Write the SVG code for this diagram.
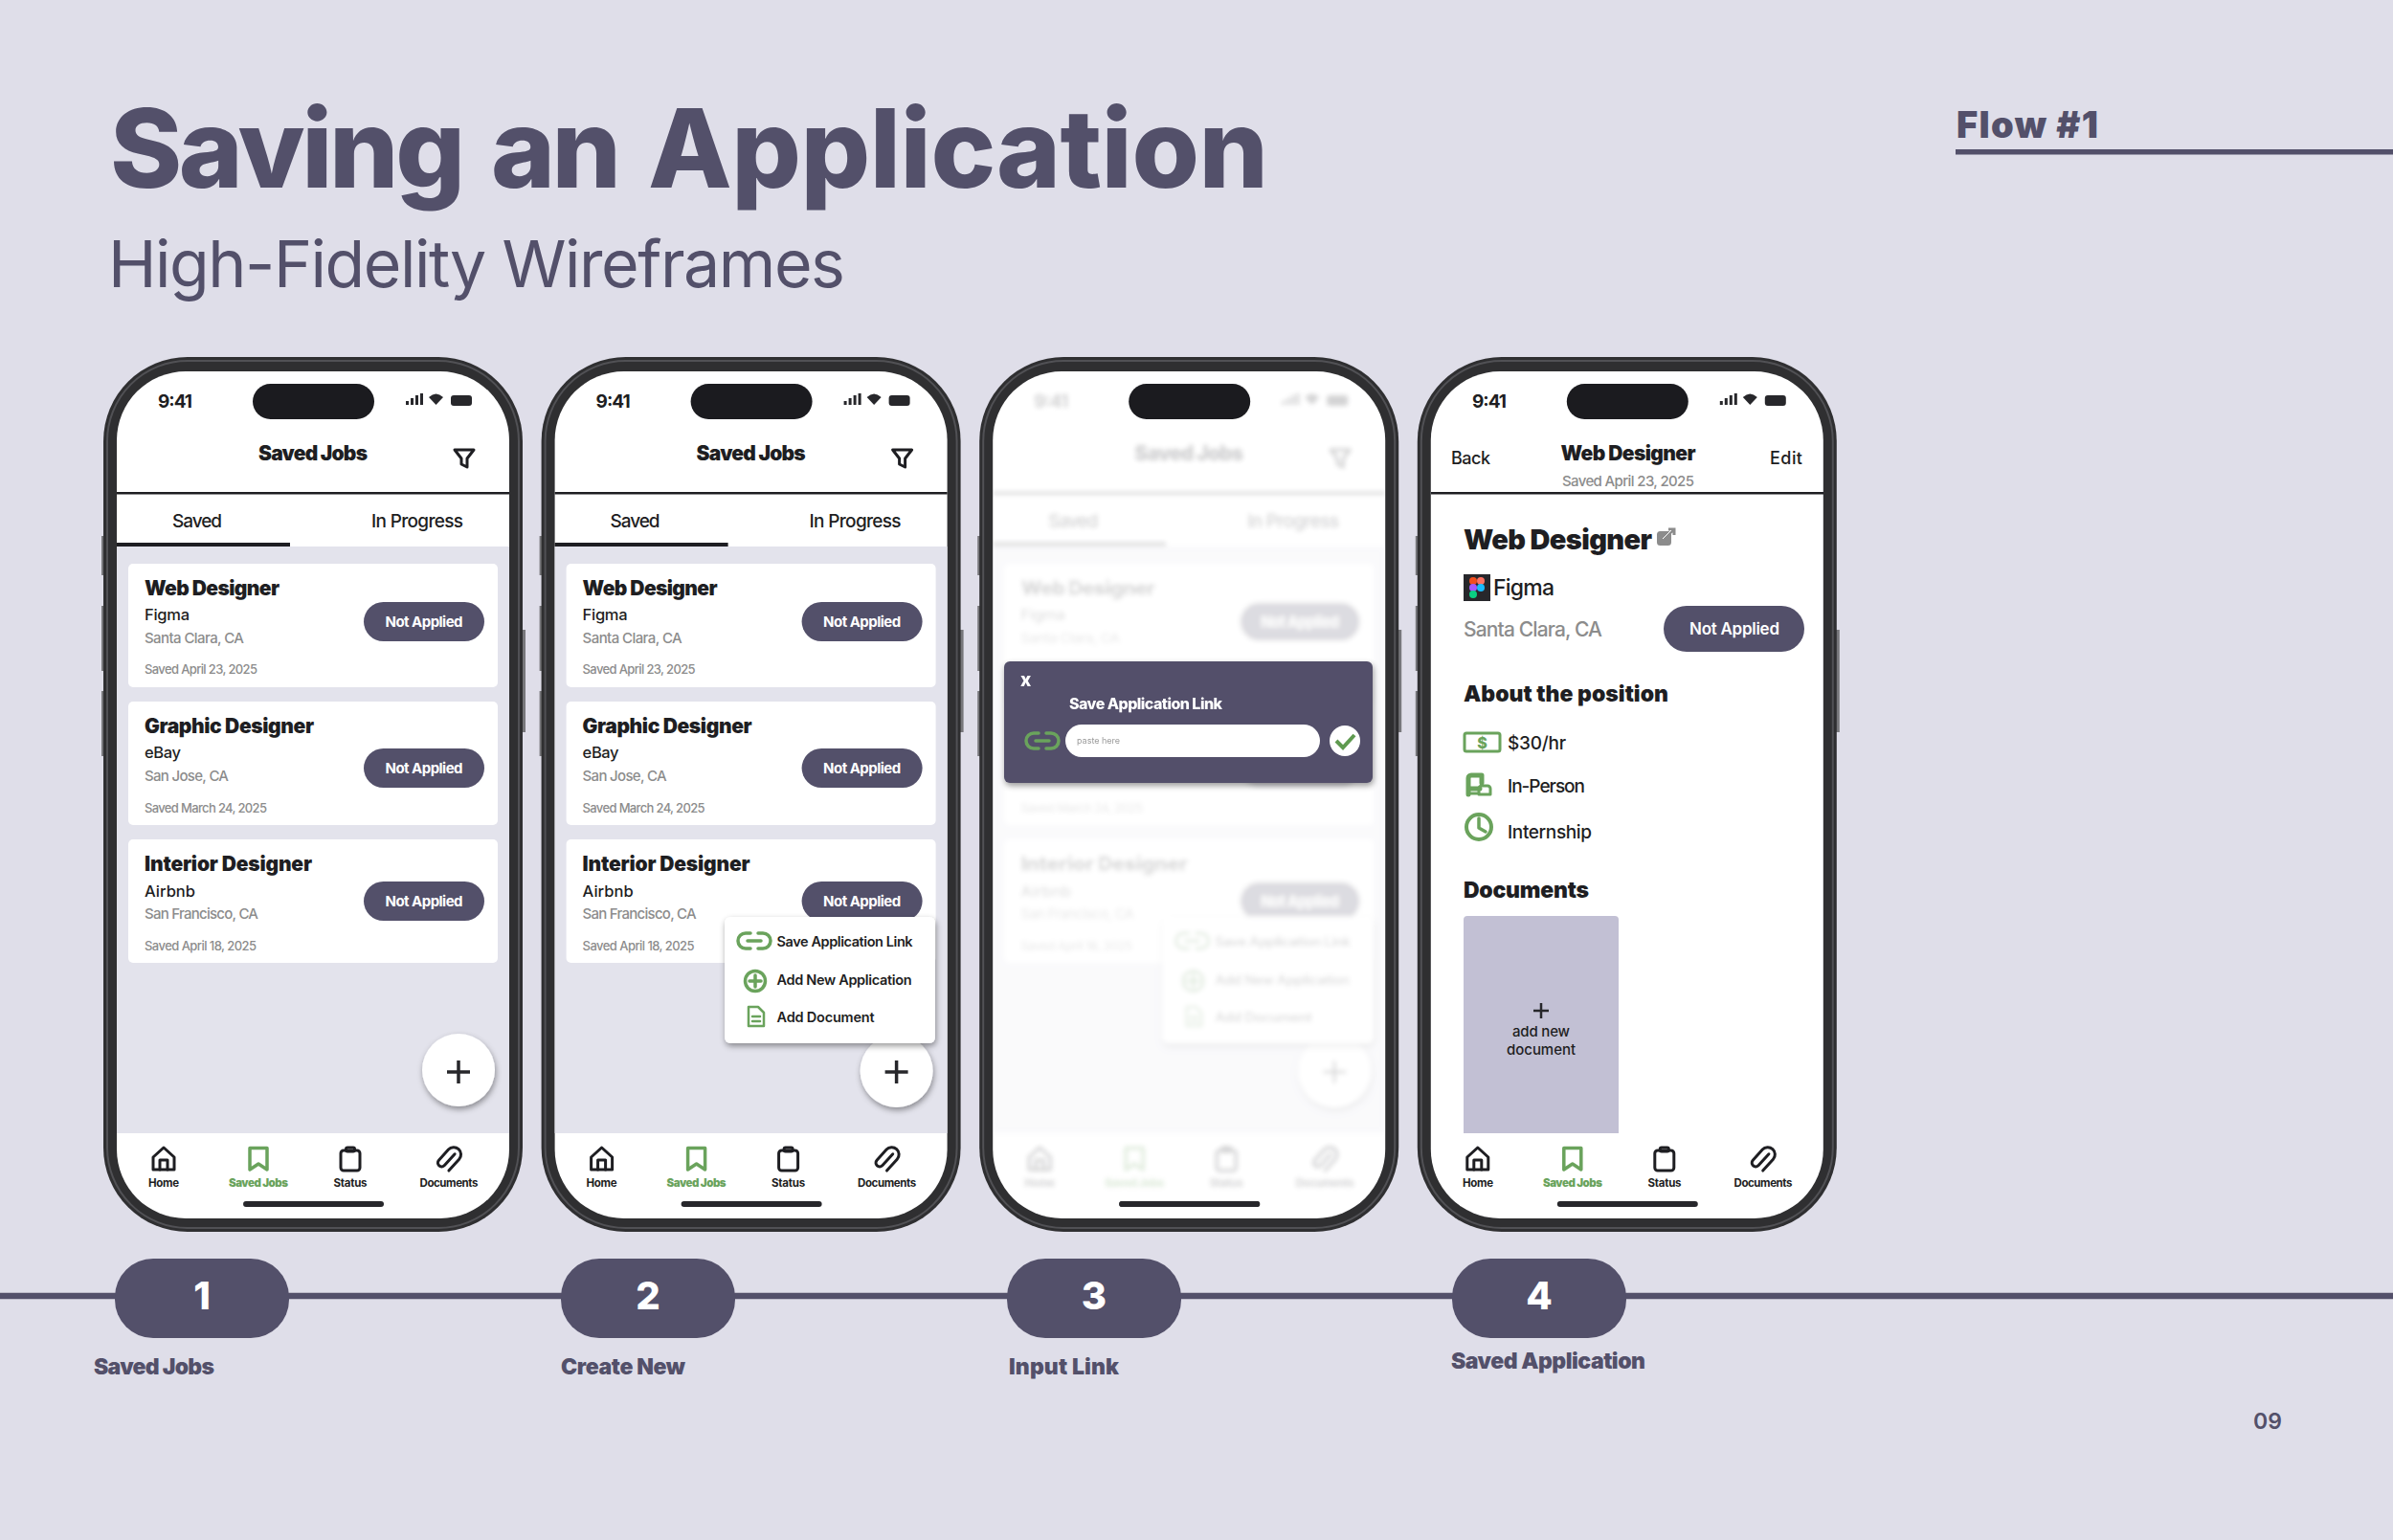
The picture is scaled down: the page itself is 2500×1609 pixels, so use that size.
<svg xmlns="http://www.w3.org/2000/svg" xmlns:xlink="http://www.w3.org/1999/xlink" width="2500" height="1609" viewBox="0 0 2500 1609">
<style>
text{font-family:Inter,"Liberation Sans",sans-serif;fill:#1e1e22;font-weight:500}
.h1{font-size:114px;font-weight:800;fill:#53506a}
.h2{font-size:68px;font-weight:400;fill:#53506a}
.flow{font-size:38px;font-weight:900;fill:#53506a}
.num{font-size:40px;font-weight:800;fill:#fff;text-anchor:middle}
.lab{font-size:23px;font-weight:900;fill:#53506a}
.clock{font-size:19px;font-weight:700}
.ttl{font-size:21px;font-weight:900;text-anchor:middle}
.tab{font-size:19px;font-weight:500}
.jt{font-size:21px;font-weight:900}
.co{font-size:16.5px;font-weight:500}
.lo{font-size:15px;fill:#8c8c8c;font-weight:500}
.da{font-size:13px;fill:#8c8c8c;font-weight:500}
.pl{font-size:15px;font-weight:700;fill:#fff;text-anchor:middle}
.nv{font-size:11.5px;font-weight:700;text-anchor:middle}
.nvg{font-size:11.5px;font-weight:900;text-anchor:middle;fill:#6aa35c}
.mn{font-size:14.5px;font-weight:600}
.sec{font-size:23px;font-weight:900}
.det{font-size:19px;font-weight:500}
.pill{fill:#53506a}
.card{fill:#fff}
.ic{fill:none;stroke:#1e1e22;stroke-width:3;stroke-linejoin:round;stroke-linecap:round}
.gr{fill:none;stroke:#6aa35c;stroke-width:3.5;stroke-linejoin:round;stroke-linecap:round}
</style>
<defs>
<clipPath id="scr"><rect x="122" y="388" width="410" height="885" rx="72"/></clipPath>
<filter id="blur" x="-5%" y="-5%" width="110%" height="110%"><feGaussianBlur stdDeviation="2.6"/></filter>
<filter id="sh" x="-20%" y="-20%" width="140%" height="150%"><feDropShadow dx="1" dy="3" stdDeviation="3" flood-color="#000" flood-opacity=".4"/></filter>
<g id="shell">
<rect x="106" y="560" width="4" height="41" fill="#77777b"/>
<rect x="106" y="633" width="4" height="68" fill="#77777b"/>
<rect x="106" y="722" width="4" height="68" fill="#77777b"/>
<rect x="544" y="658" width="5" height="107" fill="#77777b"/>
<rect x="108" y="373" width="438" height="914" rx="88" fill="#2f2f31"/>
<rect x="112" y="377" width="430" height="906" rx="84" fill="none" stroke="#515155" stroke-width="2"/>
<rect x="122" y="388" width="410" height="885" rx="72" fill="#fff"/>
<rect x="264" y="401" width="127" height="37" rx="18.500" fill="#1b1b1f"/>
<rect x="254" y="1255" width="147" height="6" rx="3" fill="#27272b"/>
</g>
<g id="status">
<path d="M424 419h3v4h-3zM429 416h3v7h-3zM434 413h3v10h-3zM439 411h3v12h-3z" fill="#27272b"/>
<path d="M448 415Q455.500 408 463 415L455.500 423Z" fill="#27272b"/>
<rect x="471" y="413" width="22" height="11" rx="3" fill="#27272b"/>
</g>
<g id="home"><path class="ic" d="M-11 11V-2L0-12 11-2V11Z"/><path class="ic" d="M-4 11V1H4V11"/></g>
<path id="bm" class="gr" d="M-9-11.500H9V11L0 5-9 11Z"/>
<g id="cb"><rect class="ic" x="-10" y="-9" width="20" height="21" rx="3"/><rect class="ic" x="-4.500" y="-12" width="9" height="4" rx="1.500"/></g>
<path id="clip" class="ic" d="M3-9V7A4 4 0 0 1-5 7V-8A7.500 7.500 0 0 1 10-8V8" transform="rotate(42) translate(-2 1)"/>
<g id="navi">
<use href="#home" x="171" y="1211"/><use href="#bm" x="270" y="1211"/><use href="#cb" x="366" y="1211"/><use href="#clip" x="469" y="1211"/>
</g>
<path id="link" class="gr" d="M-4-8H-9A8 8 0 0 0-9 8H-4M4-8H9A8 8 0 0 1 9 8H4M-7 0H7"/>
<g id="jobbg">
<rect x="122" y="571" width="410" height="613" fill="#e3e3ec"/>
<rect class="card" x="134" y="589" width="386" height="129" rx="5"/>
<rect class="card" x="134" y="733" width="386" height="129" rx="5"/>
<rect class="card" x="134" y="877" width="386" height="129" rx="5"/>
<rect x="122" y="514" width="410" height="2.500" fill="#1e1e22"/>
<rect x="122" y="567" width="181" height="4" fill="#1e1e22"/>
<path class="ic" d="M475 470H495L488 479V488L482 485V479Z"/>
<rect class="pill" x="380" y="629" width="126" height="41" rx="20.500"/>
<rect class="pill" x="380" y="782" width="126" height="41" rx="20.500"/>
<rect class="pill" x="380" y="921" width="126" height="41" rx="20.500"/>
</g>
<g id="popupbg">
<rect x="757" y="958" width="220" height="132" rx="6" fill="#fff" filter="url(#sh)"/>
<use href="#link" x="788" y="983"/>
<circle class="gr" cx="789" cy="1025" r="10.500"/><path class="gr" d="M783 1025H795M789 1019V1031"/>
<path class="gr" style="stroke-width:2.500" d="M782 1052H792L798 1058V1072H782ZM786 1062H794M786 1067H794"/>
</g>
</defs>
<rect id="background" width="2500" height="1609" fill="#dfdee9"/>
<g id="header">
<text class="h1" y="196"><tspan x="115" textLength="371">Saving</tspan> <tspan x="513" textLength="136">an</tspan> <tspan x="677" textLength="648">Application</tspan></text>
<text class="h2" x="113" y="300" textLength="770">High-Fidelity Wireframes</text>
<text class="flow" x="2044" y="144" textLength="148">Flow #1</text>
<rect x="2043" y="156" width="457" height="5.500" fill="#53506a"/>
<text class="lab" x="2354" y="1493" textLength="30" style="font-weight:600">09</text>
</g>
<g id="connectors"><line x1="0" y1="1354" x2="2500" y2="1354" stroke="#53506a" stroke-width="6.500"/></g>
<g id="step-1"><rect class="pill" x="120" y="1315" width="182" height="83" rx="40"/><text class="num" x="211" y="1368">1</text><text class="lab" x="98" y="1436" textLength="126">Saved Jobs</text></g>
<g id="step-2"><rect class="pill" x="586" y="1315" width="182" height="83" rx="40"/><text class="num" x="677" y="1368">2</text><text class="lab" x="586" y="1436" textLength="130">Create New</text></g>
<g id="step-3"><rect class="pill" x="1052" y="1315" width="182" height="83" rx="40"/><text class="num" x="1143" y="1368">3</text><text class="lab" x="1054" y="1436" textLength="115">Input Link</text></g>
<g id="step-4"><rect class="pill" x="1517" y="1315" width="182" height="83" rx="40"/><text class="num" x="1608" y="1368">4</text><text class="lab" x="1516" y="1430" textLength="203">Saved Application</text></g>

<g id="phone-1">
<use href="#shell"/><use href="#status"/><use href="#jobbg"/><use href="#navi"/>
<text class="clock" x="165" y="426" textLength="36">9:41</text>
<text class="ttl" x="327" y="481" textLength="114">Saved Jobs</text>
<text class="tab" x="180" y="551" textLength="52">Saved</text>
<text class="tab" x="388" y="551" textLength="96">In Progress</text>
<text class="jt" x="151" y="622" textLength="141">Web Designer</text>
<text class="co" x="151" y="648" textLength="47">Figma</text>
<text class="lo" x="151" y="672" textLength="104">Santa Clara, CA</text>
<text class="da" x="151" y="704" textLength="118">Saved April 23, 2025</text>
<text class="pl" x="443" y="655" textLength="81">Not Applied</text>
<text class="jt" x="151" y="766" textLength="177">Graphic Designer</text>
<text class="co" x="151" y="792" textLength="38">eBay</text>
<text class="lo" x="151" y="816" textLength="88">San Jose, CA</text>
<text class="da" x="151" y="849" textLength="128">Saved March 24, 2025</text>
<text class="pl" x="443" y="808" textLength="81">Not Applied</text>
<text class="jt" x="151" y="910" textLength="175">Interior Designer</text>
<text class="co" x="151" y="937" textLength="53">Airbnb</text>
<text class="lo" x="151" y="960" textLength="119">San Francisco, CA</text>
<text class="da" x="151" y="993" textLength="117">Saved April 18, 2025</text>
<text class="pl" x="443" y="947" textLength="81">Not Applied</text>
<circle cx="479" cy="1118" r="38" fill="#fff" filter="url(#sh)"/>
<path d="M467 1120H491M479 1108V1132" stroke="#27272b" stroke-width="3.500"/>
<text class="nv" x="171" y="1240" textLength="32">Home</text>
<text class="nvg" x="270" y="1240" textLength="62">Saved Jobs</text>
<text class="nv" x="366" y="1240" textLength="35">Status</text>
<text class="nv" x="469" y="1240" textLength="61">Documents</text>
</g>

<g id="phone-2" transform="translate(457.6 0)">
<use href="#shell"/><use href="#status"/><use href="#jobbg"/><use href="#navi"/>
<text class="clock" x="165" y="426" textLength="36">9:41</text>
<text class="ttl" x="327" y="481" textLength="114">Saved Jobs</text>
<text class="tab" x="180" y="551" textLength="52">Saved</text>
<text class="tab" x="388" y="551" textLength="96">In Progress</text>
<text class="jt" x="151" y="622" textLength="141">Web Designer</text>
<text class="co" x="151" y="648" textLength="47">Figma</text>
<text class="lo" x="151" y="672" textLength="104">Santa Clara, CA</text>
<text class="da" x="151" y="704" textLength="118">Saved April 23, 2025</text>
<text class="pl" x="443" y="655" textLength="81">Not Applied</text>
<text class="jt" x="151" y="766" textLength="177">Graphic Designer</text>
<text class="co" x="151" y="792" textLength="38">eBay</text>
<text class="lo" x="151" y="816" textLength="88">San Jose, CA</text>
<text class="da" x="151" y="849" textLength="128">Saved March 24, 2025</text>
<text class="pl" x="443" y="808" textLength="81">Not Applied</text>
<text class="jt" x="151" y="910" textLength="175">Interior Designer</text>
<text class="co" x="151" y="937" textLength="53">Airbnb</text>
<text class="lo" x="151" y="960" textLength="119">San Francisco, CA</text>
<text class="da" x="151" y="993" textLength="117">Saved April 18, 2025</text>
<text class="pl" x="443" y="947" textLength="81">Not Applied</text>
<circle cx="479" cy="1119" r="38" fill="#fff" filter="url(#sh)"/>
<path d="M467 1120H491M479 1108V1132" stroke="#27272b" stroke-width="3.500"/>
<use href="#popupbg" x="-457.6"/>
<text class="mn" x="354" y="989" textLength="142">Save Application Link</text>
<text class="mn" x="354" y="1029" textLength="141">Add New Application</text>
<text class="mn" x="354" y="1068" textLength="102">Add Document</text>
<text class="nv" x="171" y="1240" textLength="32">Home</text>
<text class="nvg" x="270" y="1240" textLength="62">Saved Jobs</text>
<text class="nv" x="366" y="1240" textLength="35">Status</text>
<text class="nv" x="469" y="1240" textLength="61">Documents</text>
</g>

<g id="phone-3" transform="translate(915.2 0)">
<use href="#shell"/>
<g clip-path="url(#scr)"><g filter="url(#blur)" opacity=".2">
<use href="#status"/><use href="#jobbg"/><use href="#navi"/>
<text class="clock" x="165" y="426" textLength="36">9:41</text>
<text class="ttl" x="327" y="481" textLength="114">Saved Jobs</text>
<text class="tab" x="180" y="551" textLength="52">Saved</text>
<text class="tab" x="388" y="551" textLength="96">In Progress</text>
<text class="jt" x="151" y="622" textLength="141">Web Designer</text>
<text class="co" x="151" y="648" textLength="47">Figma</text>
<text class="lo" x="151" y="672" textLength="104">Santa Clara, CA</text>
<text class="pl" x="443" y="655" textLength="81">Not Applied</text>
<text class="da" x="151" y="849" textLength="128">Saved March 24, 2025</text>
<text class="jt" x="151" y="910" textLength="175">Interior Designer</text>
<text class="co" x="151" y="937" textLength="53">Airbnb</text>
<text class="lo" x="151" y="960" textLength="119">San Francisco, CA</text>
<text class="da" x="151" y="993" textLength="117">Saved April 18, 2025</text>
<text class="pl" x="443" y="947" textLength="81">Not Applied</text>
<circle cx="479" cy="1119" r="38" fill="#fff" filter="url(#sh)"/>
<path d="M467 1120H491M479 1108V1132" stroke="#27272b" stroke-width="3.500"/>
<use href="#popupbg" x="-457.6"/>
<text class="mn" x="354" y="989" textLength="142">Save Application Link</text>
<text class="mn" x="354" y="1029" textLength="141">Add New Application</text>
<text class="mn" x="354" y="1068" textLength="102">Add Document</text>
<text class="nv" x="171" y="1240" textLength="32">Home</text>
<text class="nvg" x="270" y="1240" textLength="62">Saved Jobs</text>
<text class="nv" x="366" y="1240" textLength="35">Status</text>
<text class="nv" x="469" y="1240" textLength="61">Documents</text>
</g></g>
<rect x="254" y="1255" width="147" height="6" rx="3" fill="#27272b"/>
<g id="save-link-modal" transform="translate(-915.2 0)">
<rect class="pill" x="1049" y="691" width="385" height="127" rx="6" filter="url(#sh)"/>
<text x="1066" y="717" style="font-size:19px;font-weight:800;fill:#fff">x</text>
<text x="1117" y="741" textLength="160" style="font-size:16px;font-weight:800;fill:#fff">Save Application Link</text>
<use href="#link" x="1089" y="774"/>
<rect x="1113" y="757" width="266" height="34" rx="17" fill="#fff"/>
<text x="1125" y="777" textLength="45" style="font-size:9px;fill:#9a9a9a;font-weight:400">paste here</text>
<circle cx="1405" cy="774" r="16" fill="#fff"/>
<path d="M1396 774L1403 781 1415 768" fill="none" stroke="#5f9a50" stroke-width="4"/>
</g>
</g>

<g id="phone-4">
<use href="#shell" x="1372.8"/><use href="#status" x="1372.8"/><use href="#navi" x="1372.8"/>
<rect x="1495" y="514" width="410" height="2.500" fill="#1e1e22"/>
<text class="clock" x="1538" y="426" textLength="36">9:41</text>
<text class="ttl" x="1701" y="481" textLength="141">Web Designer</text>
<text class="det" x="1516" y="485" style="font-size:18px" textLength="41">Back</text>
<text class="det" x="1849" y="485" style="font-size:18px" textLength="34">Edit</text>
<text class="lo" x="1701" y="508" textLength="138" style="text-anchor:middle">Saved April 23, 2025</text>
<text x="1529" y="574" textLength="197" style="font-size:29px;font-weight:900">Web Designer</text>
<g id="external"><rect x="1732" y="556" width="13" height="13" rx="2.500" fill="#8c8c8c" stroke="#8c8c8c" stroke-width="2"/><path d="M1738 563L1748 554M1743 553H1749V559" fill="none" stroke="#8c8c8c" stroke-width="3"/><path d="M1737 563L1746 554" stroke="#fff" stroke-width="1"/></g>
<g id="figma-logo"><rect x="1529" y="600" width="28" height="28" fill="#27272b"/><circle cx="1539" cy="607" r="4" fill="#f24e1e"/><circle cx="1547" cy="607" r="4" fill="#ff7262"/><circle cx="1539" cy="614" r="4" fill="#a259ff"/><circle cx="1547" cy="614" r="4" fill="#1abcfe"/><circle cx="1539" cy="621" r="4" fill="#0acf83"/></g>
<text x="1560" y="622" textLength="64" style="font-size:23px;font-weight:500">Figma</text>
<text class="lo" x="1529" y="665" textLength="145" style="font-size:21px">Santa Clara, CA</text>
<rect class="pill" x="1738" y="633" width="147" height="48" rx="24"/>
<text class="pl" x="1812" y="663" textLength="94" style="font-size:17px;font-weight:600">Not Applied</text>
<text class="sec" x="1529" y="733" textLength="214">About the position</text>
<rect class="gr" x="1530" y="766" width="37" height="19" rx="2" style="stroke-width:3"/>
<text x="1548.500" y="782" style="font-size:16px;font-weight:800;fill:#6aa35c;text-anchor:middle">$</text>
<text class="det" x="1575" y="783" textLength="61">$30/hr</text>
<path class="gr" d="M1534 830V813A3 3 0 0 1 1537 810H1548V818M1537 824H1546" style="stroke-width:5"/>
<path class="gr" d="M1545 830V824A3 3 0 0 1 1548 821H1554A3 3 0 0 1 1557 824V830ZM1536 829H1544" style="stroke-width:3"/>
<text class="det" x="1575" y="828" textLength="81">In-Person</text>
<circle class="gr" cx="1545" cy="864" r="13" style="stroke-width:4"/><path class="gr" d="M1545 855V865L1552 869"/>
<text class="det" x="1575" y="876" textLength="88">Internship</text>
<text class="sec" x="1529" y="938" textLength="131">Documents</text>
<path d="M1529 961A4 4 0 0 1 1533 957H1687A4 4 0 0 1 1691 961V1184H1529Z" fill="#c2c0d4"/>
<path d="M1602 1056H1618M1610 1048V1064" stroke="#27272b" stroke-width="2.500"/>
<text x="1610" y="1083" textLength="60" style="font-size:15px;text-anchor:middle">add new</text>
<text x="1610" y="1102" textLength="72" style="font-size:15px;text-anchor:middle">document</text>
<text class="nv" x="1544" y="1240" textLength="32">Home</text>
<text class="nvg" x="1643" y="1240" textLength="62">Saved Jobs</text>
<text class="nv" x="1739" y="1240" textLength="35">Status</text>
<text class="nv" x="1842" y="1240" textLength="61">Documents</text>
</g>
</svg>
